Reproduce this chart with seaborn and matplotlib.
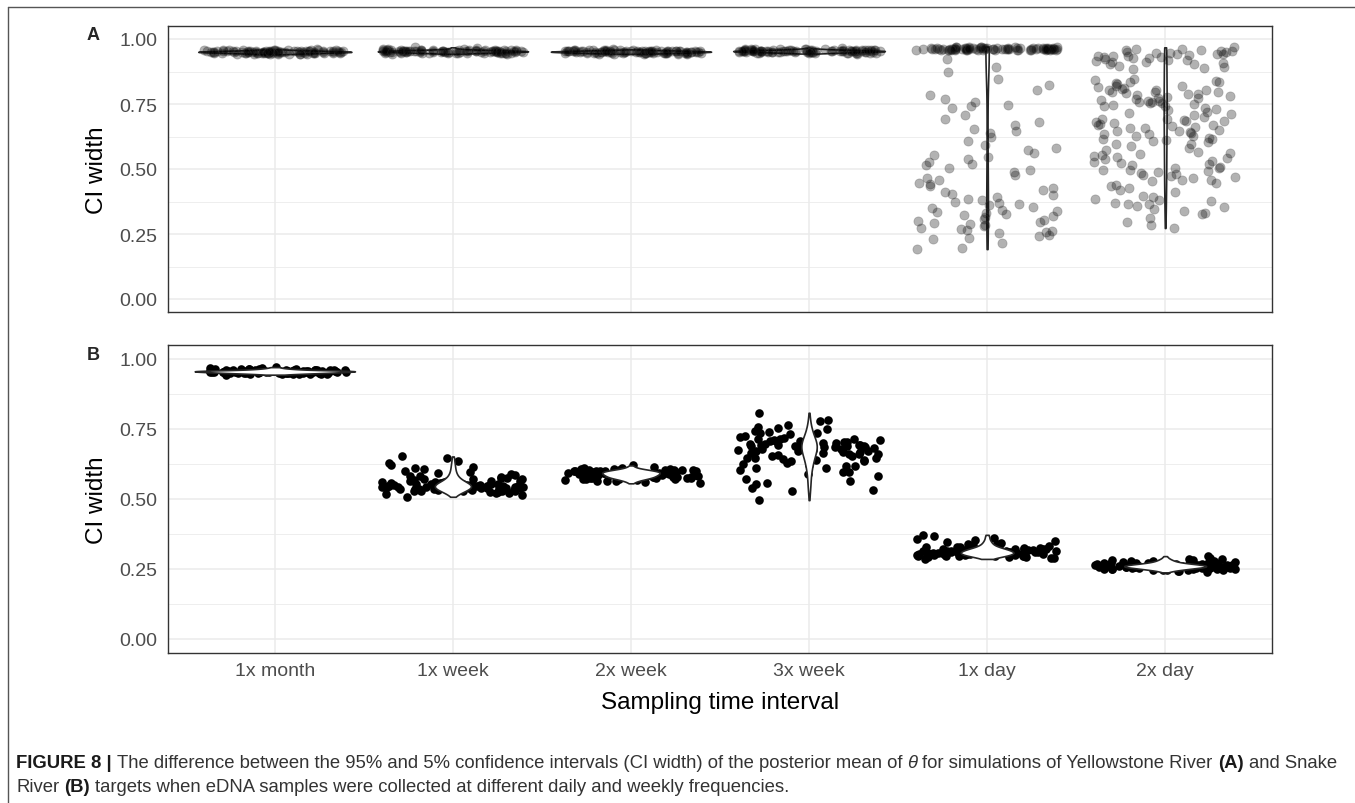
import numpy as np
import pandas as pd
import matplotlib
matplotlib.use("Agg")
import matplotlib.pyplot as plt
from matplotlib.lines import Line2D
import seaborn as sns

# ---------------- data (CI width, in thousandths) ----------------
categories = ["1x month", "1x week", "2x week", "3x week", "1x day", "2x day"]
y_ticks = [0.00, 0.25, 0.50, 0.75, 1.00]
y_tick_labels = ["0.00", "0.25", "0.50", "0.75", "1.00"]

a_1x_month = [951,948,955,944,952,949,957,946,950,953,941,956,948,951,945,954,950,947,959,952,
              943,949,955,951,946,953,948,956,950,944,952,958,947,951,954,949,945,953,950,957,
              948,942,955,951,949,953,946,950,956,952,947,951,954,944,949,958,952,948,955,950,
              946,953,949,951,957,943,950,954,948,952,955,947,951,949,953,945,956,950,952,948,
              954,951,946,950,960,949,953,947,952,944]
a_1x_week = [953,950,957,946,954,951,959,948,952,955,944,958,950,953,947,956,952,949,962,954,
             945,951,957,953,948,955,950,968,952,946,954,960,949,953,956,951,947,955,952,959,
             950,943,957,953,951,955,948,952,958,954,949,953,956,946,951,961,954,950,957,952,
             948,955,951,953,959,945,952,956,950,954,957,949,953,951,955,947,958,952,954,950,
             956,953,948,952,964,951,955,949,954,946]
a_2x_week = [950,953,946,955,949,952,944,957,951,948,954,947,956,950,943,953,949,958,952,946,
             951,955,948,953,945,950,957,952,947,954,949,951,956,944,952,948,955,950,953,946,
             958,951,947,954,950,952,945,956,949,953,951,947,955,950,943,953,949,957,952,948,
             954,950,946,952,956,949,953,947,955,951,944,952,950,957,948,954,951,946,953,950,
             955,949,952,947,960,951,948,954,950,953]
a_3x_week = [954,951,958,947,955,952,960,949,953,956,945,959,951,954,948,957,953,950,963,955,
             946,952,958,954,949,956,951,961,953,947,955,962,950,954,957,952,948,956,953,960,
             951,944,958,954,952,956,949,953,959,955,950,954,957,947,952,962,955,951,958,953,
             949,956,952,954,960,946,953,957,951,955,958,950,954,952,956,948,959,953,955,951,
             957,954,949,953,966,952,956,950,955,947]
a_1x_day = [962,965,958,968,960,963,957,966,961,964,959,969,962,956,965,960,967,963,958,961,
            964,970,959,962,966,957,963,961,968,960,965,958,962,964,956,967,961,963,959,966,
            962,960,965,971,958,963,961,964,957,962,966,959,963,960,968,962,965,958,961,964,
            960,963,967,959,962,965,961,957,964,962,969,960,963,958,966,961,964,962,959,963,
            925,893,872,845,823,802,784,771,757,748,742,735,706,694,681,668,655,646,640,622,
            608,593,581,575,560,553,548,540,528,521,515,505,498,487,476,466,458,447,441,433,
            426,418,412,405,399,392,386,381,375,370,366,361,355,349,344,340,336,331,327,322,
            318,314,309,305,301,296,292,287,283,279,275,271,266,262,258,253,248,243,236,229,
            215,198,192]
a_2x_day = [968,955,947,962,938,951,929,944,958,933,921,949,936,912,957,926,941,903,918,952,
            931,897,909,944,923,887,915,936,902,961,928,893,946,911,884,
            842,815,798,776,833,761,804,789,752,826,741,812,768,795,733,848,781,756,819,708,
            772,836,745,802,729,784,763,821,716,797,749,838,774,726,809,758,787,712,831,766,
            743,803,721,794,755,
            693,668,645,681,612,657,628,699,639,574,664,603,686,551,621,675,596,648,563,689,
            633,582,656,617,671,558,642,598,685,627,566,651,609,677,589,636,554,662,615,694,
            543,521,498,476,532,459,514,487,445,528,469,503,418,491,537,452,479,426,509,466,
            547,438,495,411,524,473,456,502,433,486,
            392,364,347,381,328,356,395,312,371,339,286,352,378,297,365,332,273,384]

b_1x_month = [955,952,959,948,957,953,962,950,956,960,945,961,954,957,949,963,955,951,967,958,
              947,953,960,956,950,958,952,964,955,949,957,965,951,956,959,954,946,958,955,969,
              953,947,960,956,954,958,950,955,962,957,951,956,959,948,953,966,957,952,960,955,
              950,958,954,956,963,944,955,959,952,957,961,951,956,954,958,949,964,955,957,952,
              959,956,950,955,971,953,958,951,957,948]
b_1x_week = [552,538,566,547,529,574,556,541,583,549,533,561,545,598,527,554,570,543,536,612,
             558,531,547,589,542,524,563,551,537,627,546,571,534,555,519,544,580,539,553,645,
             528,565,548,536,593,541,557,523,549,606,535,562,544,576,530,552,515,547,587,540,
             559,532,621,550,526,568,545,538,599,553,521,556,634,543,572,537,548,508,560,615,
             546,581,531,554,652,539,563,527,551,542]
b_2x_week = [590,582,598,575,594,585,604,579,596,572,601,584,592,566,597,580,608,589,577,600,
             583,595,569,591,606,578,599,587,561,603,593,574,597,586,612,580,592,571,600,588,
             578,604,584,596,566,590,598,576,602,583,594,570,598,587,615,579,591,573,601,585,
             596,577,589,605,568,592,597,581,609,584,574,599,590,563,594,583,606,580,597,588,
             572,600,586,620,577,593,603,575,589,556]
b_3x_week = [662,701,634,688,715,597,673,652,741,619,694,680,557,708,645,726,669,588,697,753,
             628,684,712,541,659,736,676,611,692,764,648,703,571,687,721,639,666,782,604,698,
             675,529,714,656,690,743,621,681,706,566,694,637,729,672,595,688,757,647,709,684,
             532,668,719,626,699,778,655,686,581,713,642,693,734,612,679,702,552,664,749,690,
             618,707,673,496,685,731,640,697,808,659]
b_1x_day = [312,305,321,298,316,309,327,302,314,335,296,318,307,324,301,345,311,299,320,306,
            331,293,315,304,338,310,297,323,308,352,300,317,290,313,328,303,319,362,306,311,
            295,326,309,341,302,314,288,322,305,349,298,316,310,333,301,320,294,312,307,368,
            303,325,299,314,337,308,292,318,304,356,311,297,322,306,343,300,315,286,319,330,
            309,302,327,296,313,372,305,317,301,324]
b_2x_day = [262,257,268,251,265,259,273,254,263,270,248,266,256,261,276,252,264,258,280,253,
            267,245,260,271,255,263,249,284,258,266,252,262,274,247,259,268,256,291,261,250,
            265,257,277,244,262,269,254,260,287,258,251,264,272,256,261,246,267,259,282,253,
            263,270,255,248,262,275,258,266,251,296,260,256,269,243,264,278,257,262,249,268,
            254,261,273,258,265,238,260,283,255,263]

panel_a = [a_1x_month, a_1x_week, a_2x_week, a_3x_week, a_1x_day, a_2x_day]
panel_b = [b_1x_month, b_1x_week, b_2x_week, b_3x_week, b_1x_day, b_2x_day]


def to_frame(groups):
    rows = []
    for cat, vals in zip(categories, groups):
        for v in vals:
            rows.append((cat, v / 1000.0))
    return pd.DataFrame(rows, columns=["interval", "ci"])


dfA = to_frame(panel_a)
dfB = to_frame(panel_b)

# ---------------- style ----------------
sns.set_style("white")
plt.rcParams["font.family"] = ["Liberation Sans", "DejaVu Sans"]
np.random.seed(7)

W, H = 1355, 804
fig = plt.figure(figsize=(W / 100, H / 100), dpi=100)


def px_axes(l, t, r, b):
    return fig.add_axes([l / W, 1 - b / H, (r - l) / W, (b - t) / H])


axA = px_axes(168, 27, 1272, 313)
axB = px_axes(168, 346, 1272, 654)

GRID = "#EBEBEB"
DARK = "#333333"


def draw_panel(ax, df, points_on_top, point_kw):
    sns.violinplot(data=df, x="interval", y="ci", order=categories, cut=0,
                   density_norm="area", inner=None, color="white", saturation=1,
                   linecolor="#262626", linewidth=1.2, width=0.9,
                   bw_method="silverman", ax=ax)
    n_before = len(ax.collections)
    sns.stripplot(data=df, x="interval", y="ci", order=categories, jitter=0.4,
                  ax=ax, **point_kw)
    for i, c in enumerate(ax.collections):
        if i < n_before:
            c.set_zorder(3 if not points_on_top else 2)
        else:
            c.set_zorder(2 if not points_on_top else 3)


draw_panel(axA, dfA, True, dict(color="black", alpha=0.3, size=6.6,
                                linewidth=0.6, edgecolor="#444444"))
draw_panel(axB, dfB, False, dict(color="black", size=6.2, linewidth=0))

for ax in (axA, axB):
    ax.set_xlim(-0.6, 5.6)
    ax.set_ylim(-0.05, 1.05)
    ax.set_yticks(y_ticks)
    ax.set_yticklabels(y_tick_labels)
    ax.set_yticks([0.125, 0.375, 0.625, 0.875], minor=True)
    ax.grid(True, which="major", color=GRID, linewidth=1.1, zorder=0)
    ax.grid(True, which="minor", axis="y", color=GRID, linewidth=0.6, zorder=0)
    ax.set_axisbelow(True)
    for s in ax.spines.values():
        s.set_visible(True)
        s.set_color(DARK)
        s.set_linewidth(1.0)
    ax.tick_params(axis="both", which="major", direction="out", length=3,
                   width=0.9, color=DARK, labelsize=14, labelcolor="#4D4D4D")
    ax.tick_params(axis="y", pad=4.5)
    ax.tick_params(axis="x", pad=3.5)
    ax.tick_params(which="minor", length=0)
    ax.set_ylabel("CI width", fontsize=17.5, color="black")
    ax.yaxis.set_label_coords(-0.054, 0.5)

axA.set_xlabel("")
axA.set_xticklabels([])
axB.set_xlabel("Sampling time interval", fontsize=17.5, color="black", va="top")
axB.xaxis.set_label_coords(0.5, -0.123)

fig.text(93 / W, 1 - 36 / H, "A", fontsize=13, fontweight="bold", ha="center", va="center")
fig.text(93 / W, 1 - 355 / H, "B", fontsize=13, fontweight="bold", ha="center", va="center")

# outer frame (left and top edges)
fig.add_artist(Line2D([8 / W, 8 / W], [0, 1 - 8 / H], transform=fig.transFigure,
                      color="#555555", linewidth=1.0))
fig.add_artist(Line2D([8 / W, 1], [1 - 8 / H, 1 - 8 / H], transform=fig.transFigure,
                      color="#555555", linewidth=1.0))

# ---------------- caption ----------------
CAP = 13.3
renderer = fig.canvas.get_renderer()


def text_width(s, **kw):
    t = fig.text(0, 0, s, fontsize=CAP, **kw)
    w = t.get_window_extent(renderer).width
    t.remove()
    return w


space_w = text_width("a a") - text_width("aa")


def runs(x, y, parts):
    for s, kw in parts:
        lead = len(s) - len(s.lstrip(" "))
        trail = len(s) - len(s.rstrip(" "))
        x += lead * space_w
        core = s.strip(" ")
        t = fig.text(x / W, 1 - y / H, core, fontsize=CAP,
                     ha="left", va="baseline", **kw)
        x += t.get_window_extent(renderer).width + trail * space_w


B = dict(fontweight="bold", color="#1A1A1A")
N = dict(color="#333333")
I = dict(style="italic", color="#333333")
runs(16, 768, [("FIGURE 8 | ", B),
               ("The difference between the 95% and 5% confidence intervals (CI width) of the posterior mean of ", N),
               ("θ", I),
               (" for simulations of Yellowstone River ", N),
               ("(A)", B),
               (" and Snake", N)])
runs(16, 792, [("River ", N), ("(B)", B),
               (" targets when eDNA samples were collected at different daily and weekly frequencies.", N)])

fig.savefig("out.png", dpi=100)
